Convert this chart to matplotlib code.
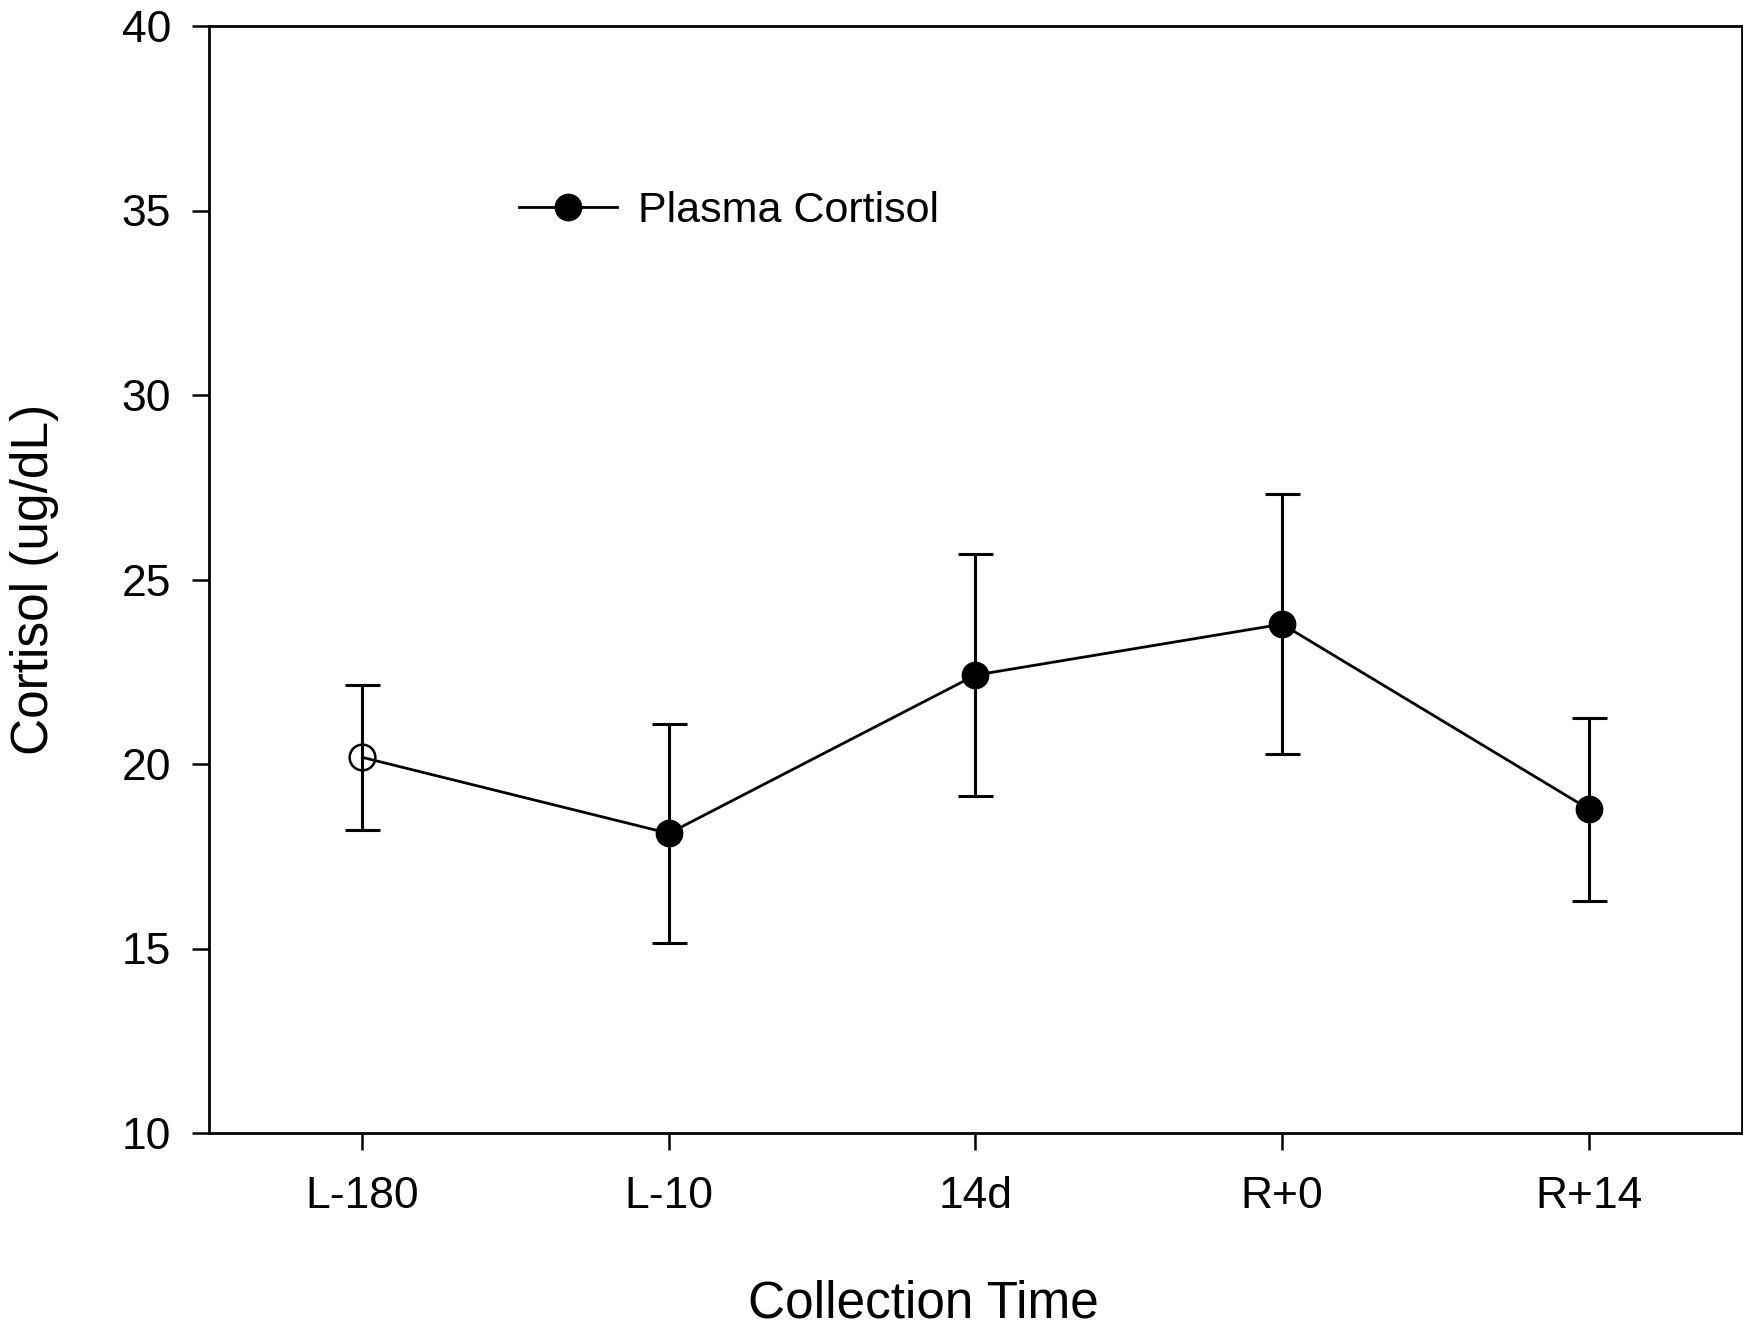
import matplotlib
matplotlib.use("Agg")
import matplotlib.pyplot as plt
from matplotlib.lines import Line2D
import numpy as np

plt.rcParams['font.family'] = ['Liberation Sans', 'DejaVu Sans']

# Data
categories = ["L-180", "L-10", "14d", "R+0", "R+14"]
cortisol_mean = [20.18, 18.12, 22.41, 23.79, 18.78]
cortisol_upper = [22.15, 21.08, 25.69, 27.31, 21.25]
cortisol_lower = [18.20, 15.14, 19.14, 20.28, 16.30]
open_marker = [True, False, False, False, False]
yticks = [10, 15, 20, 25, 30, 35, 40]

W, H = 1743, 1327
fig = plt.figure(figsize=(W / 100, H / 100), dpi=100)
ax = fig.add_axes([209 / W, (H - 1133) / H, (1742 - 209) / W, (1133 - 26) / H])

x = np.arange(len(categories))
mean = np.array(cortisol_mean)
yerr = np.vstack([mean - np.array(cortisol_lower), np.array(cortisol_upper) - mean])

ax.errorbar(x, mean, yerr=yerr, fmt='none', ecolor='black', elinewidth=2.2,
            capsize=12.6, capthick=2.2, zorder=2)
ax.plot(x, mean, color='black', lw=2.0, zorder=3)
for xi, yi, op in zip(x, mean, open_marker):
    if op:
        ax.plot([xi], [yi], marker='o', ms=18.5, mfc='none', mec='black', mew=1.8,
                linestyle='none', zorder=4)
    else:
        ax.plot([xi], [yi], marker='o', ms=19, mfc='black', mec='black', mew=1,
                linestyle='none', zorder=4)

ax.set_xlim(-0.5, 4.5)
ax.set_ylim(10, 40)
ax.set_xticks(x)
ax.set_xticklabels(categories)
ax.set_yticks(yticks)
ax.tick_params(axis='both', direction='out', length=12.2, width=1.8, labelsize=32,
               top=False, right=False)
ax.tick_params(axis='y', pad=15)
ax.tick_params(axis='x', pad=19)
for s in ax.spines.values():
    s.set_linewidth(2.0)

# Axis labels
fig.text(923 / W, (H - 1317) / H, "Collection Time", fontsize=37,
         ha='center', va='baseline')
fig.text(48 / W, (H - 579) / H, "Cortisol (ug/dL)", fontsize=37, rotation=90,
         rotation_mode='anchor', ha='center', va='baseline')

# Legend
handle = Line2D([], [], color='black', lw=2.0, marker='o', ms=19, mfc='black')
ax.legend([handle], ["Plasma Cortisol"], loc='center left',
          bbox_to_anchor=((519 - 209) / 1533, (1133 - 211) / 1107),
          frameon=False, fontsize=31, handlelength=2.27, handletextpad=0.5,
          borderpad=0, borderaxespad=0)

fig.savefig("out.png", dpi=100)
